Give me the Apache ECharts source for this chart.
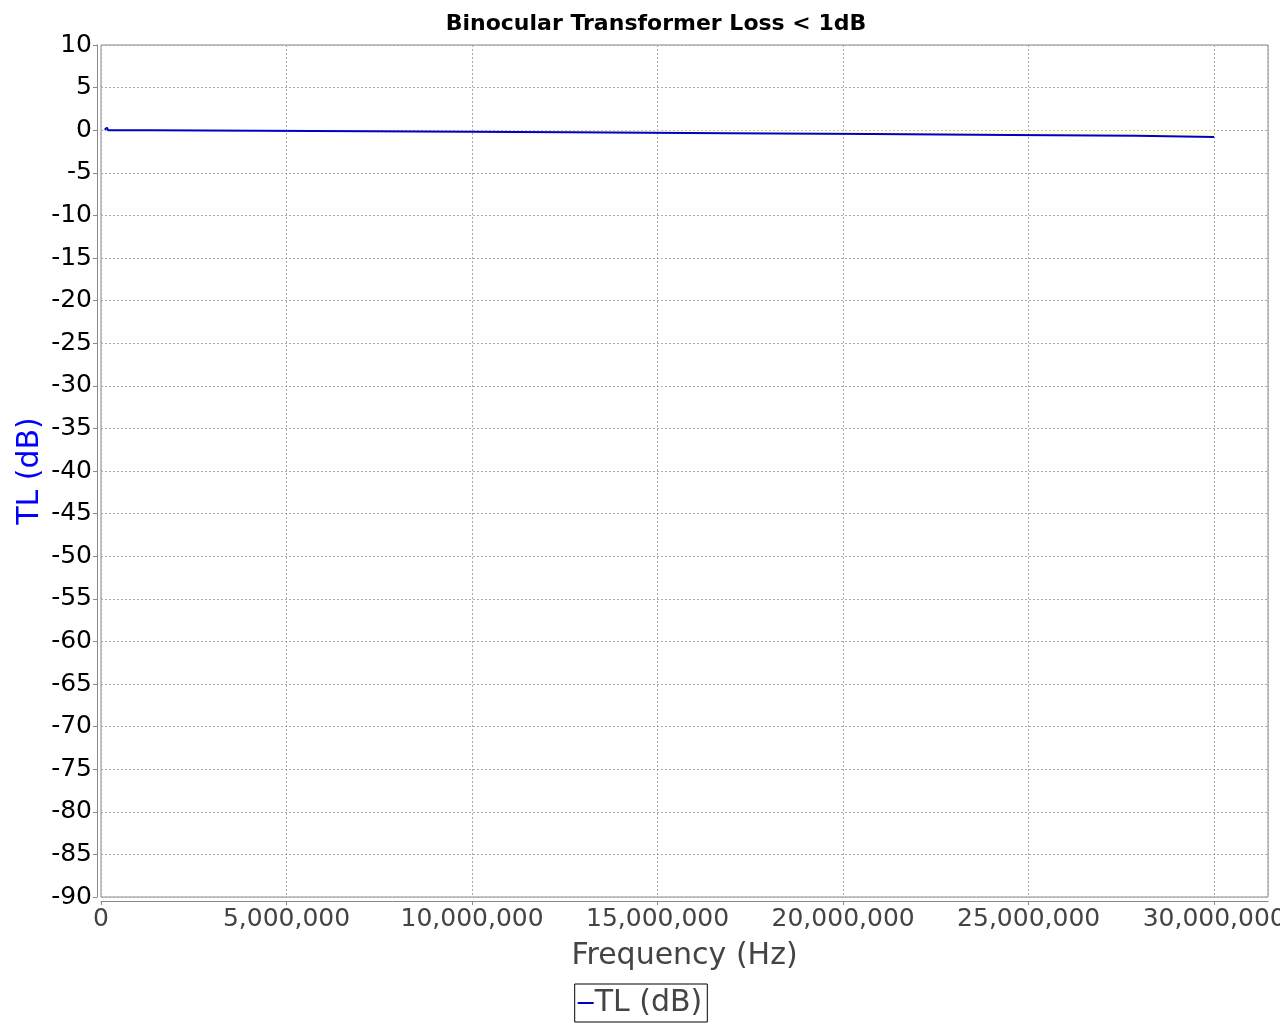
<!DOCTYPE html>
<html>
<head>
<meta charset="utf-8">
<script src="https://cdn.jsdelivr.net/npm/echarts@6/dist/echarts.min.js"></script>
<style>html,body{margin:0;padding:0;background:#fff}#c{width:1280px;height:1024px}</style>
</head>
<body>
<div id="c"></div>
<script>
const titleText = 'Binocular Transformer Loss < 1dB';
const seriesName = 'TL (dB)';
const xName = 'Frequency (Hz)';
const yName = 'TL (dB)';
const freqHz = [100000, 160000, 190000, 1370000, 7170000, 12590000, 16900000, 20750000, 24530000, 27900000, 30000000];
const tlDb   = [0.05, 0.3, 0.0, -0.12, -0.25, -0.35, -0.45, -0.55, -0.65, -0.8, -0.8];
const xMin = 0, xMax = 31450000, xStep = 5000000;
const yMin = -90, yMax = 10, yStep = 5;

// build step-function points (hold each value until the next frequency)
const data = [];
freqHz.forEach((f, i) => {
  if (i > 2) data.push([f, tlDb[i - 1]]);
  data.push([f, tlDb[i]]);
});

const chart = echarts.init(document.getElementById('c'));
const fontFam = '"DejaVu Sans", sans-serif';
chart.setOption({
  animation: false,
  backgroundColor: '#ffffff',
  title: {
    text: titleText, left: 651, top: 8, textAlign: 'center',
    textStyle: { fontFamily: fontFam, fontSize: 22, fontWeight: 'bold', color: '#000' }
  },
  grid: { left: 101, right: 12, top: 45, bottom: 127, show: true, borderColor: '#888', borderWidth: 1,
    backgroundColor: '#fff', containLabel: false, outerBoundsMode: 'none' },
  legend: {
    bottom: 2, left: 'center', data: [seriesName],
    borderColor: '#000', borderWidth: 1, padding: [4, 5, 4, 3],
    itemWidth: 16, itemHeight: 2, itemGap: 2, icon: 'rect',
    textStyle: { fontFamily: fontFam, fontSize: 30, color: '#444', padding: [0, 0, 0, -4] }
  },
  xAxis: {
    type: 'value', min: xMin, max: xMax, interval: xStep, offset: 4,
    name: xName, nameLocation: 'middle', nameGap: 40, nameMoveOverlap: false,
    nameTextStyle: { fontFamily: fontFam, fontSize: 30, color: '#444' },
    axisLine: { show: true, onZero: false, lineStyle: { color: '#888' } },
    axisTick: { show: true, length: 4, lineStyle: { color: '#888' } },
    axisLabel: { fontFamily: fontFam, fontSize: 25, color: '#444', margin: 6, showMaxLabel: false, hideOverlap: false,
      formatter: v => (v % xStep === 0 ? v.toLocaleString('en-US') : '') },
    splitLine: { show: true, lineStyle: { color: '#aaa', type: [2, 2], width: 1 } }
  },
  yAxis: {
    type: 'value', min: yMin, max: yMax, interval: yStep, offset: 4,
    name: yName, nameLocation: 'middle', nameGap: 52, nameMoveOverlap: false,
    nameTextStyle: { fontFamily: fontFam, fontSize: 30, color: '#0000ff' },
    axisLine: { show: true, onZero: false, lineStyle: { color: '#888' } },
    axisTick: { show: true, length: 4, lineStyle: { color: '#888' } },
    axisLabel: { fontFamily: fontFam, fontSize: 25, color: '#000', margin: 5 },
    splitLine: { show: true, lineStyle: { color: '#aaa', type: [2, 2], width: 1 } }
  },
  series: [{
    name: seriesName, type: 'line', data: data,
    showSymbol: false, symbol: 'none',
    lineStyle: { color: '#0000c8', width: 2 },
    itemStyle: { color: '#0000c8' },
    areaStyle: { color: 'rgba(255,255,190,0.6)', origin: 0 }
  }]
});
</script>
</body>
</html>
